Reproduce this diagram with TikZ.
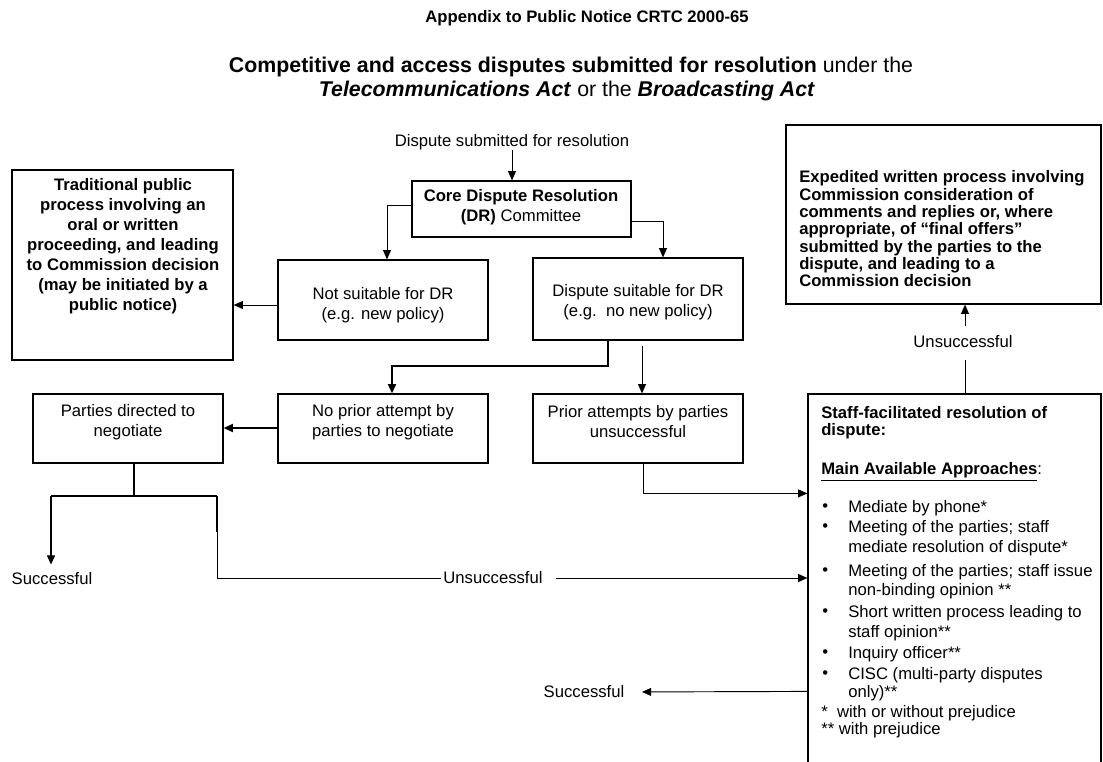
\documentclass[tikz,border=0pt]{standalone}
\usepackage{fontspec}
\setmainfont{Liberation Sans}
\usetikzlibrary{arrows.meta,calc}
\newcommand\bodyfont{\fontsize{12.5pt}{15pt}\selectfont}
\newcommand\titlefont{\fontsize{16pt}{19pt}\selectfont}
\newcommand\mkbox[5]{\node[box, minimum width={(#4-#2)*0.75pt}, minimum height={(#5-#3)*0.75pt}] (#1) at ({(#2+#4)/2},{(#3+#5)/2}) {};}
\begin{document}
\begin{tikzpicture}[x=0.75pt,y=-0.75pt,
  box/.style={draw, line width=0.9pt, inner sep=0pt},
  txt/.style={inner sep=0pt, font=\bodyfont, align=center},
  btxt/.style={inner sep=0pt, font=\bodyfont\bfseries, align=center},
  conn/.style={line width=0.7pt},
  arr/.style={conn, -{Triangle[length=7pt,width=6pt]}},
  thk/.style={line width=1.4pt}]
\useasboundingbox (0,0) rectangle (1103,761);
\fill[white] (0,0) rectangle (1103,761);
\clip (0,0) rectangle (1103,761);

% titles
\node[btxt] (t1) at (587,18) {Appendix to Public Notice CRTC 2000-65};
\node[inner sep=0pt, font=\titlefont] (t2) at (571,67) {\textbf{Competitive and access disputes submitted for resolution} under the};
\node[inner sep=0pt, font=\titlefont] (t3) at (567,91) {\textbf{\textit{Telecommunications Act}} or the \textbf{\textit{Broadcasting Act}}};

% boxes
\mkbox{core}{412}{181}{631}{237}
\mkbox{trad}{12}{170}{233}{360}
\mkbox{notsuit}{278}{260}{488}{340}
\mkbox{suit}{533}{258}{743}{340}
\mkbox{expd}{786}{125}{1101}{304}
\mkbox{parties}{33}{394}{223}{463}
\mkbox{noprior}{278}{394}{488}{463}
\mkbox{prior}{533}{394}{743}{463}
\mkbox{staff}{808}{394}{1101}{780}

% box texts
\node[txt] (subt) at (512,142) {Dispute submitted for resolution};
\node[txt] (coret) at (521,207.5) {\textbf{Core Dispute Resolution}\\\textbf{(DR)} Committee};
\node[btxt] (tradt) at (123,246) {Traditional public\\process involving an\\oral or written\\proceeding, and leading\\to Commission decision\\(may be initiated by a\\public notice)};
\node[txt] (notsuitt) at (383,305) {Not suitable for DR\\(e.g. new policy)};
\node[txt] (suitt) at (638,302) {Dispute suitable for DR\\(e.g.\ \ no new policy)};
\node[inner sep=0pt, anchor=west, align=left, font=\fontsize{12.5pt}{13pt}\selectfont\bfseries] (expdt) at (799,229) {Expedited written process involving\\Commission consideration of\\comments and replies or, where\\appropriate, of ``final offers''\\submitted by the parties to the\\dispute, and leading to a\\Commission decision};
\node[txt] (partiest) at (128,422) {Parties directed to\\negotiate};
\node[txt] (nopriort) at (383,422) {No prior attempt by\\parties to negotiate};
\node[txt] (priort) at (638,422) {Prior attempts by parties\\unsuccessful};

% staff box contents
\begin{scope}[every node/.style={inner sep=0pt, anchor=west, font=\bodyfont}]
\node[font=\bodyfont\bfseries] (s1) at (821,413) {Staff-facilitated resolution of};
\node[font=\bodyfont\bfseries] (s2) at (821,431) {dispute:};
\node (s3) at (821,472) {\textbf{\underline{Main Available Approaches}}:};
\node (b1) at (822,508) {•}; \node (i1) at (848,508) {Mediate by phone*};
\node (b2) at (822,528) {•}; \node (i2) at (848,528) {Meeting of the parties; staff};
\node (i2b) at (848,548) {mediate resolution of dispute*};
\node (b3) at (822,572) {•}; \node (i3) at (848,572) {Meeting of the parties; staff issue};
\node (i3b) at (848,591) {non-binding opinion **};
\node (b4) at (822,613) {•}; \node (i4) at (848,613) {Short written process leading to};
\node (i4b) at (848,633) {staff opinion**};
\node (b5) at (822,654) {•}; \node (i5) at (848,654) {Inquiry officer**};
\node (b6) at (822,675) {•}; \node (i6) at (848,675) {CISC (multi-party disputes};
\node (i6b) at (848,693) {only)**};
\node (f1) at (821,713) {*\ \ with or without prejudice};
\node (f2) at (821,730) {** with prejudice};
\end{scope}

% labels
\node[txt] (succA) at (52,579) {Successful};
\node[txt] (unsA) at (493,578) {Unsuccessful};
\node[txt] (succB) at (584,692) {Successful};
\node[txt] (unsB) at (963,342) {Unsuccessful};

% connectors
\draw[arr] (subt.south) -- (subt.south |- core.north);
\draw[arr] ($(core.west)+(0,-4)$) -| ($(notsuit.north)+(4,0)$);
\draw[arr] ($(core.south east)+(0,-16)$) -| ($(suit.north)+(25,0)$);
\draw[arr] ($(notsuit.west)+(0,5)$) -- ($(notsuit.west -| trad.east)+(0,5)$);
\draw[arr, thk] ($(suit.south)+(-30,0)$) -- ++(0,25) -| ($(noprior.north)+(9,0)$);
\draw[arr] ($(suit.south)+(4,5)$) -- ($(prior.north)+(4,0)$);
\draw[arr, thk] ($(noprior.west)+(0,-0.5)$) -- ($(noprior.west -| parties.east)+(0,-0.5)$);
\coordinate (bl) at (51,496);
\coordinate (br) at (217,496);
\draw[thk] ($(parties.south)+(6,0)$) -- ($(parties.south)+(6,33)$);
\draw[thk] (bl) -- (br);
\draw[arr, line width=1pt, shorten >=6pt] (bl) -- (bl |- succA.north);
\draw[thk] (br) -- ++(0,36);
\draw[conn, shorten >=2pt] (br) |- (unsA.west);
\draw[arr, shorten <=10pt] (unsA.east) -- (unsA.east -| staff.west);
\draw[arr] ($(prior.south)+(5,0)$) |- ($(staff.north west)+(0,100)$);
\draw[arr, shorten >=13pt] ($(staff.north west)+(0,298)$) -- (succB.east);
\draw[conn, shorten >=9pt] ($(unsB |- staff.north)+(2,0)$) -- ($(unsB.south)+(2,0)$);
\draw[arr, shorten <=7pt] ($(unsB.north)+(2,0)$) -- ($(unsB.north |- expd.south)+(2,0)$);
\end{tikzpicture}
\end{document}
